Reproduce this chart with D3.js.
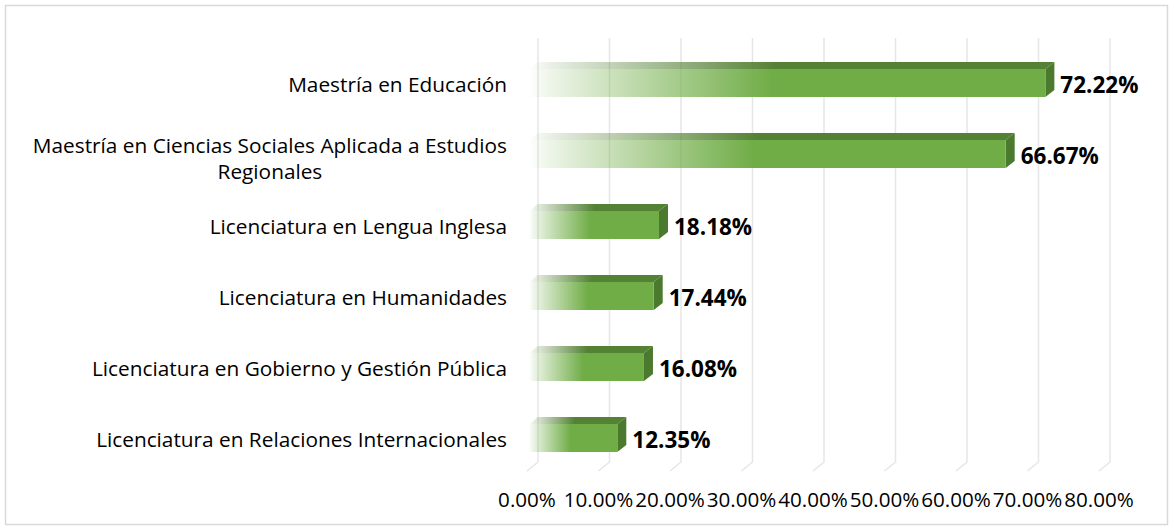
<!DOCTYPE html>
<html>
<head>
<meta charset="utf-8">
<script src="https://cdn.jsdelivr.net/npm/d3@7"></script>
<style>
  body { margin: 0; background: #fff; }
  svg { display: block; font-family: 'Open Sans', sans-serif; }
</style>
</head>
<body>
<svg id="chart" width="1174" height="531"></svg>
<script>
const categories = [
  'Maestría en Educación',
  'Maestría en Ciencias Sociales Aplicada a Estudios Regionales',
  'Licenciatura en Lengua Inglesa',
  'Licenciatura en Humanidades',
  'Licenciatura en Gobierno y Gestión Pública',
  'Licenciatura en Relaciones Internacionales'
]
const values = [72.22, 66.67, 18.18, 17.44, 16.08, 12.35]
const ticks = [0, 10, 20, 30, 40, 50, 60, 70, 80]

const svg = d3.select('#chart')

// depth of the 3d bars (front face is shifted left/down from the back wall)
const depth = { x: 9, y: -7 }
const floorDepth = { x: 11, y: 9 }
const wallTop = 38
const wallBottom = 462
const barHeight = 28

const x = d3.scaleLinear().domain([0, 80]).range([538, 1110])
const y = d3.scalePoint().domain(categories).range([83, 438])

// chart border
svg.append('rect')
  .attr('x', 5.5).attr('y', 5.5)
  .attr('width', 1162).attr('height', 519)
  .attr('fill', 'none')
  .attr('stroke', '#d9d9d9')
  .attr('stroke-width', 1.5)

const defs = svg.append('defs')
function fade (id, color) {
  const g = defs.append('linearGradient').attr('id', id)
    .attr('x1', 0).attr('x2', 1).attr('y1', 0).attr('y2', 0)
  g.append('stop').attr('offset', 0).attr('stop-color', color).attr('stop-opacity', 0)
  g.append('stop').attr('offset', 0.04).attr('stop-color', color).attr('stop-opacity', 0.12)
  g.append('stop').attr('offset', 0.47).attr('stop-color', color).attr('stop-opacity', 1)
  g.append('stop').attr('offset', 1).attr('stop-color', color).attr('stop-opacity', 1)
}
fade('frontFade', '#70ad47')
fade('topFade', '#548235')

// back wall gridlines + floor
const grid = svg.append('g')
  .attr('fill', 'none')
  .attr('stroke', '#e6e6e6')
  .attr('stroke-width', 1.5)
grid.selectAll('path')
  .data(ticks)
  .enter()
  .append('path')
  .attr('d', d => `M${x(d)},${wallTop}V${wallBottom}l${-floorDepth.x},${floorDepth.y}`)

// bars
const bars = svg.append('g')
  .selectAll('g')
  .data(values)
  .enter()
  .append('g')

bars.each(function (v, i) {
  const g = d3.select(this)
  const x0 = x(0) - depth.x
  const x1 = x(v) - depth.x
  const yt = y(categories[i]) - barHeight / 2
  const yb = yt + barHeight

  // top face
  g.append('path')
    .attr('d', `M${x0},${yt}H${x1}l${depth.x},${depth.y}H${x0 + depth.x}Z`)
    .attr('fill', 'url(#topFade)')
  // side face
  g.append('path')
    .attr('d', `M${x1},${yt}l${depth.x},${depth.y}V${yb + depth.y}L${x1},${yb}Z`)
    .attr('fill', '#4b7a2e')
  // front face
  g.append('rect')
    .attr('x', x0).attr('y', yt)
    .attr('width', x1 - x0).attr('height', barHeight)
    .attr('fill', 'url(#frontFade)')
})

// value labels
svg.append('g')
  .selectAll('text')
  .data(values)
  .enter()
  .append('text')
  .attr('x', d => x(d) + 6)
  .attr('y', (d, i) => y(categories[i]) + 10.3)
  .attr('font-size', '22.5px')
  .attr('font-weight', 'bold')
  .attr('fill', '#000')
  .text(d => d.toFixed(2) + '%')

// tick labels
svg.append('g')
  .selectAll('text')
  .data(ticks)
  .enter()
  .append('text')
  .attr('x', d => x(d) - floorDepth.x)
  .attr('y', 507)
  .attr('text-anchor', 'middle')
  .attr('font-size', '20.6px')
  .attr('fill', '#000')
  .text(d => d.toFixed(2) + '%')

// category labels (wrapped when too long)
const labelRight = 507
const maxWidth = 490
const lineHeight = 26
const labels = svg.append('g')
  .attr('font-size', '20.8px')
  .attr('fill', '#000')

categories.forEach(function (name) {
  const t = labels.append('text')
  const words = name.split(' ')
  const lines = []
  let line = []
  words.forEach(function (w) {
    line.push(w)
    t.text(line.join(' '))
    if (t.node().getComputedTextLength() > maxWidth && line.length > 1) {
      line.pop()
      lines.push(line.join(' '))
      line = [w]
    }
  })
  lines.push(line.join(' '))
  t.text(lines[0])
  const w0 = t.node().getComputedTextLength()
  t.remove()

  const cy = y(name)
  const n = lines.length
  lines.forEach(function (l, j) {
    labels.append('text')
      .attr('x', n > 1 ? labelRight - w0 / 2 : labelRight)
      .attr('y', cy + 9 + (j - (n - 1) / 2) * lineHeight + (n > 1 ? 3 : 0))
      .attr('text-anchor', n > 1 ? 'middle' : 'end')
      .text(l)
  })
})
</script>
</body>
</html>
